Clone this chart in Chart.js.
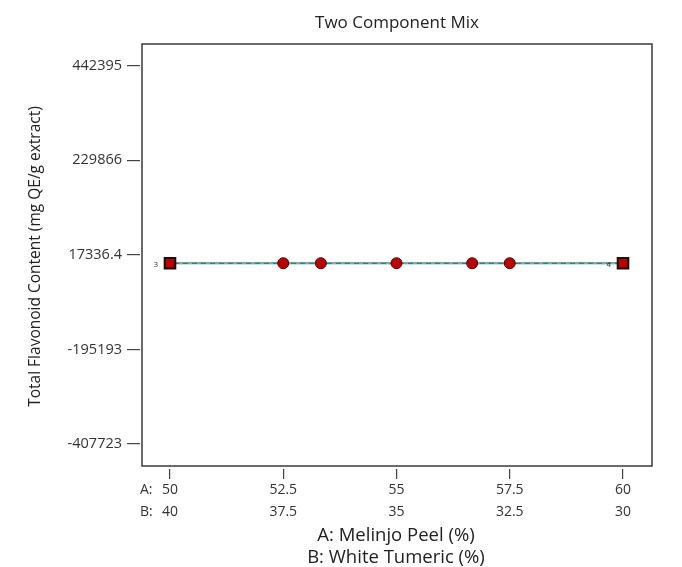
<!DOCTYPE html>
<html lang="en">
<head>
    <meta charset="UTF-8">
    <title>Two Component Mix</title>
    <script src="https://cdn.jsdelivr.net/npm/chart.js"></script>
    <style>
        html, body { margin: 0; padding: 0; background: #fff; }
        #wrap { width: 682px; height: 567px; }
    </style>
</head>
<body>
    <div id="wrap"><canvas id="mixChart"></canvas></div>

    <script>
        // fitted model line (A: Melinjo Peel %)
        const lineX = [50, 52.5, 55, 57.5, 60];
        const lineY = [-1500, -1500, -1500, -1500, -1500];

        // design points
        const pointX = [50, 52.5, 53.33, 55, 56.67, 57.5, 60];
        const pointY = [-1500, -1500, -1500, -1500, -1500, -1500, -1500];
        const pointCounts = ['3', '', '', '', '', '', '4'];

        // axis ticks
        const xTickValues = [50, 52.5, 55, 57.5, 60];
        const xTickLabelsA = ['50', '52.5', '55', '57.5', '60'];
        const xTickLabelsB = ['40', '37.5', '35', '32.5', '30'];
        const yTickValues = [442395, 229866, 17336.4, -195193, -407723];
        const yTickLabels = ['442395', '229866', '17336.4', '-195193', '-407723'];

        const chartTitle = 'Two Component Mix';

        const FONT = "'Open Sans', 'Noto Sans', sans-serif";
        const ink = '#333';

        const frame = {
            id: 'frame',
            afterDraw(chart) {
                const { ctx, chartArea: a } = chart;
                ctx.save();
                ctx.strokeStyle = '#3a3a3a';
                ctx.lineWidth = 1.5;
                ctx.strokeRect(a.left + 2, a.top, a.right - a.left - 2, a.bottom - a.top - 3);

                // title centred over the plot box
                ctx.fillStyle = '#222';
                ctx.font = '17px ' + FONT;
                ctx.textAlign = 'center';
                ctx.textBaseline = 'middle';
                ctx.fillText(chartTitle, (a.left + 2 + a.right) / 2, 23);

                // A: / B: prefixes on the x tick rows
                ctx.fillStyle = ink;
                ctx.font = '14px ' + FONT;
                ctx.textAlign = 'left';
                ctx.fillText('A:', a.left, a.bottom + 21);
                ctx.fillText('B:', a.left, a.bottom + 43);

                // run counts beside design points
                const xs = chart.scales.x, ys = chart.scales.y;
                ctx.font = '8px ' + FONT;
                ctx.textAlign = 'right';
                pointCounts.forEach((c, i) => {
                    if (!c) return;
                    ctx.fillText(c, xs.getPixelForValue(pointX[i]) - 12, ys.getPixelForValue(pointY[i]) + 1);
                });
                ctx.restore();
            }
        };

        const ctx = document.getElementById('mixChart').getContext('2d');
        new Chart(ctx, {
            type: 'scatter',
            data: {
                datasets: [
                    {
                        label: 'Prediction',
                        data: lineX.map((x, i) => ({ x: x, y: lineY[i] })),
                        showLine: true,
                        borderColor: '#1f8b8b',
                        borderWidth: 2,
                        pointRadius: 0,
                        order: 3
                    },
                    {
                        label: 'Interval',
                        data: lineX.map((x, i) => ({ x: x, y: lineY[i] })),
                        showLine: true,
                        borderColor: '#a0a0a0',
                        borderWidth: 1.5,
                        borderDash: [4, 5],
                        pointRadius: 0,
                        order: 2
                    },
                    {
                        label: 'Design points',
                        data: pointX.map((x, i) => ({ x: x, y: pointY[i] })),
                        showLine: false,
                        pointStyle: pointCounts.map(c => c ? 'rect' : 'circle'),
                        pointRadius: pointCounts.map(c => c ? 7.5 : 5.5),
                        backgroundColor: '#c00000',
                        borderColor: pointCounts.map(c => c ? '#111' : '#4a0000'),
                        borderWidth: pointCounts.map(c => c ? 2 : 1),
                        order: 1
                    }
                ]
            },
            options: {
                responsive: true,
                maintainAspectRatio: false,
                animation: false,
                layout: { padding: { left: 0, right: 30, top: 44, bottom: 0 } },
                plugins: {
                    legend: { display: false },
                    tooltip: { enabled: false },
                    title: { display: false }
                },
                scales: {
                    x: {
                        type: 'linear',
                        min: 49.338,
                        max: 60.64,
                        afterBuildTicks: s => { s.ticks = xTickValues.map(v => ({ value: v })); },
                        afterFit: s => { s.height = 98; },
                        grid: { drawOnChartArea: false, drawTicks: true, tickLength: 10, color: '#444', lineWidth: 1.2 },
                        border: { display: false },
                        ticks: {
                            color: ink,
                            padding: 0,
                            maxRotation: 0,
                            autoSkip: false,
                            font: { family: FONT, size: 14, lineHeight: '22px' },
                            callback: (v) => {
                                const i = xTickValues.indexOf(v);
                                return i < 0 ? '' : [xTickLabelsA[i], xTickLabelsB[i]];
                            }
                        },
                        title: {
                            display: true,
                            text: ['A: Melinjo Peel (%)', 'B: White Tumeric (%)'],
                            color: '#222',
                            font: { family: FONT, size: 18.5, lineHeight: '22px' },
                            padding: { top: 0, bottom: -2 }
                        }
                    },
                    y: {
                        type: 'linear',
                        min: -463898,
                        max: 491155,
                        afterBuildTicks: s => { s.ticks = yTickValues.map(v => ({ value: v })); },
                        afterFit: s => { s.width = 140; },
                        grid: { drawOnChartArea: false, drawTicks: true, tickLength: 13, color: '#444', lineWidth: 1.2 },
                        border: { display: false },
                        ticks: {
                            color: ink,
                            padding: 5,
                            font: { family: FONT, size: 14.5 },
                            callback: (v) => {
                                const i = yTickValues.indexOf(v);
                                return i < 0 ? '' : yTickLabels[i];
                            }
                        },
                        title: {
                            display: true,
                            text: 'Total Flavonoid Content (mg QE/g extract)',
                            color: '#222',
                            font: { family: FONT, size: 15.5, lineHeight: 1.2 },
                            padding: { top: 26, bottom: 0 }
                        }
                    }
                }
            },
            plugins: [frame]
        });
    </script>
</body>
</html>
